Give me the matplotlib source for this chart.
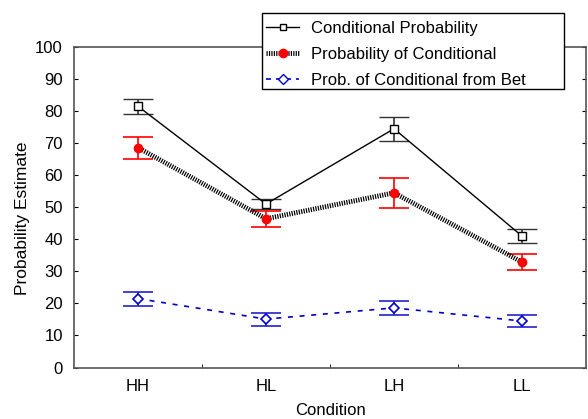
import numpy as np
import matplotlib.pyplot as plt
from matplotlib.lines import Line2D
from matplotlib.patches import Rectangle

plt.rcParams['font.family'] = ['Liberation Sans', 'DejaVu Sans']

# data
conditions = ['HH', 'HL', 'LH', 'LL']
cond_prob = [81.5, 51.0, 74.5, 41.0]
cond_prob_err = [2.3, 1.6, 3.8, 2.1]
prob_cond = [68.6, 46.4, 54.5, 32.9]
prob_cond_err = [3.4, 2.5, 4.7, 2.6]
prob_bet = [21.5, 15.1, 18.6, 14.5]
prob_bet_err = [2.2, 2.0, 2.3, 1.9]
labels = ['Conditional Probability', 'Probability of Conditional',
          'Prob. of Conditional from Bet']

x = np.arange(len(conditions))

fig = plt.figure(figsize=(5.88, 4.19), dpi=100)
ax = fig.add_axes([74 / 588, 1 - 367.5 / 419, 512 / 588, 320.5 / 419])

blue = '#0000cc'
ax.errorbar(x, cond_prob, yerr=cond_prob_err, color='black', lw=1,
            marker='s', ms=6, mfc='white', mec='black', mew=1,
            ecolor='#333333', elinewidth=1.2, capsize=11, capthick=1.2)
ax.errorbar(x, prob_cond, yerr=prob_cond_err, color='black', lw=3.5,
            linestyle=(0, (0.25, 0.25)),
            marker='o', ms=6, mfc='red', mec='red',
            ecolor='red', elinewidth=1.2, capsize=11, capthick=1.2)
ax.errorbar(x, prob_bet, yerr=prob_bet_err, color=blue, lw=1.2,
            linestyle=(0, (3, 4)),
            marker='D', ms=5.5, mfc='white', mec=blue, mew=1.2,
            ecolor='#2222cc', elinewidth=1.2, capsize=11, capthick=1.2)

ax.set_xlim(-0.5, 3.5)
ax.set_ylim(0, 100)
ax.set_yticks(np.arange(0, 101, 10))
ax.set_xticks(x)
ax.set_xticklabels(conditions)
ax.set_xticks([0.5, 1.5, 2.5], minor=True)
ax.tick_params(axis='x', which='major', length=0, pad=8, labelsize=12)
ax.tick_params(axis='x', which='minor', direction='in', length=3)
ax.tick_params(axis='y', direction='in', length=3, right=True, labelsize=12, pad=8)
for s in ax.spines.values():
    s.set_color('#555555')
    s.set_linewidth(1.2)

ax.set_xlabel('Condition', fontsize=12, labelpad=7)
ax.set_ylabel('Probability Estimate', fontsize=12.5)
ax.yaxis.set_label_coords(-0.086, 0.466)

# legend box sits over the top edge of the axes
fig.patches.append(Rectangle((262 / 588, 1 - 89 / 419), 302 / 588, 76 / 419,
                             transform=fig.transFigure, facecolor='white',
                             edgecolor='black', lw=1.0, zorder=4))
handles = [
    Line2D([], [], color='black', lw=1, marker='s', ms=5, mfc='white', mec='black'),
    Line2D([], [], color='black', lw=3.5, linestyle=(0, (0.25, 0.25)),
           marker='o', ms=6, mfc='red', mec='red'),
    Line2D([], [], color=blue, lw=1.2, linestyle=(0, (3, 3)),
           marker='D', ms=5, mfc='white', mec=blue),
]
leg = fig.legend(handles, labels, loc='upper left',
                 bbox_to_anchor=(266 / 588, 1 - 21 / 419),
                 fontsize=12, frameon=False, handlelength=2.0,
                 borderpad=0, labelspacing=0.65, handletextpad=0.7,
                 borderaxespad=0)
leg.set_zorder(5)

fig.savefig('out.png', dpi=100)
